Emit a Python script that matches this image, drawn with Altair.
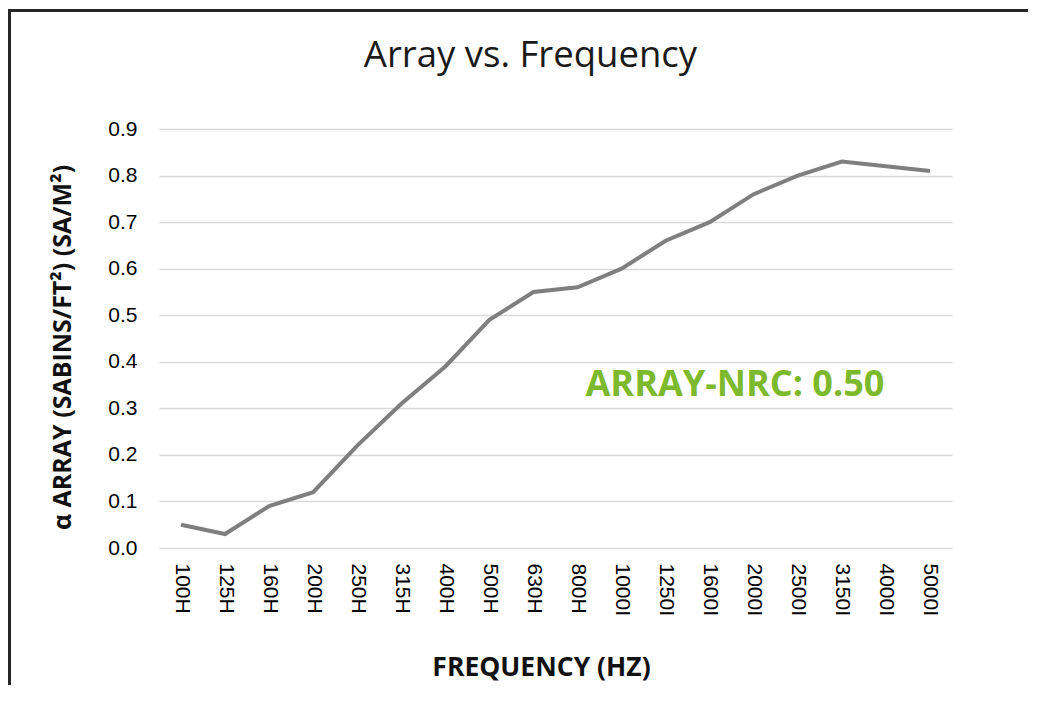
import altair as alt
import pandas as pd

freq_labels = ["100H", "125H", "160H", "200H", "250H", "315H", "400H", "500H", "630H",
               "800H", "1000I", "1250I", "1600I", "2000I", "2500I", "3150I", "4000I", "5000I"]
alpha_values = [0.05, 0.03, 0.09, 0.12, 0.22, 0.31, 0.39, 0.49, 0.55,
                0.56, 0.60, 0.66, 0.70, 0.76, 0.80, 0.83, 0.82, 0.81]
y_ticks = [0.0, 0.1, 0.2, 0.3, 0.4, 0.5, 0.6, 0.7, 0.8, 0.9]
note_text = ["ARRAY-NRC: 0.50"]
note_x = ["800H"]
note_y = [0.35]

df = pd.DataFrame({"freq": freq_labels, "alpha": alpha_values})
note_df = pd.DataFrame({"freq": note_x, "alpha": note_y, "label": note_text})
frame_df = pd.DataFrame({"k": [0]})

PLOT_W = 793
PLOT_H = 419
PAD_R = 76
PAD_B = 137

x_enc = alt.X(
    "freq:N",
    sort=freq_labels,
    scale=alt.Scale(type="point", padding=0.5),
    axis=alt.Axis(
        title="FREQUENCY (HZ)",
        labelAngle=90,
        labelFont="Liberation Sans",
        labelFontSize=21,
        labelColor="#000000",
        labelPadding=15,
        ticks=False,
        domain=False,
        grid=False,
        titleFont="Open Sans",
        titleFontWeight="bold",
        titleFontSize=26.5,
        titleColor="#111111",
        titleAlign="center",
        titleBaseline="alphabetic",
        titleX=382,
        titleY=127,
    ),
)

y_enc = alt.Y(
    "alpha:Q",
    scale=alt.Scale(domain=[0, 0.9], nice=False),
    axis=alt.Axis(
        title="α ARRAY (SABINS/FT²) (SA/M²)",
        values=y_ticks,
        format=".1f",
        labelFont="Liberation Sans",
        labelFontSize=21,
        labelColor="#000000",
        labelPadding=22,
        ticks=False,
        domain=False,
        grid=True,
        gridColor="#d9d9d9",
        gridWidth=1.5,
        titleFont="Open Sans",
        titleFontWeight="bold",
        titleFontSize=25,
        titleColor="#111111",
        titleAngle=-90,
        titleAlign="center",
        titleBaseline="middle",
        titleX=-97,
        titleY=218,
    ),
)

line = alt.Chart(df).mark_line(color="#7f7f7f", strokeWidth=4).encode(x=x_enc, y=y_enc)

note = alt.Chart(note_df).mark_text(
    align="left", baseline="middle", dx=8, font="Open Sans", fontWeight="bold",
    fontSize=36, color="#7cb92c"
).encode(
    x=alt.X("freq:N", sort=freq_labels),
    y=alt.Y("alpha:Q"),
    text="label:N",
)

frame_top = alt.Chart(frame_df).mark_rule(color="#262626", strokeWidth=3, strokeCap="butt").encode(
    x=alt.value(-151), x2=alt.value(PLOT_W + PAD_R), y=alt.value(-118.5),
)
frame_left = alt.Chart(frame_df).mark_rule(color="#262626", strokeWidth=3, strokeCap="butt").encode(
    x=alt.value(-149.5), y=alt.value(-120), y2=alt.value(PLOT_H + PAD_B),
)

chart = alt.layer(line, note, frame_top, frame_left).properties(
    width=PLOT_W,
    height=PLOT_H,
    background="white",
    title=alt.TitleParams(
        "Array vs. Frequency",
        font="Open Sans",
        fontSize=36.5,
        fontWeight="normal",
        color="#1a1a1a",
        anchor="middle",
        frame="group",
        baseline="alphabetic",
        offset=-96,
        dx=-25,
    ),
    autosize=alt.AutoSizeParams(type="none"),
    padding={"left": 151, "top": 121, "right": PAD_R, "bottom": PAD_B},
).configure_view(strokeWidth=0, stroke="transparent")

chart.save("out.html", embed_options={"renderer": "svg", "actions": False})
